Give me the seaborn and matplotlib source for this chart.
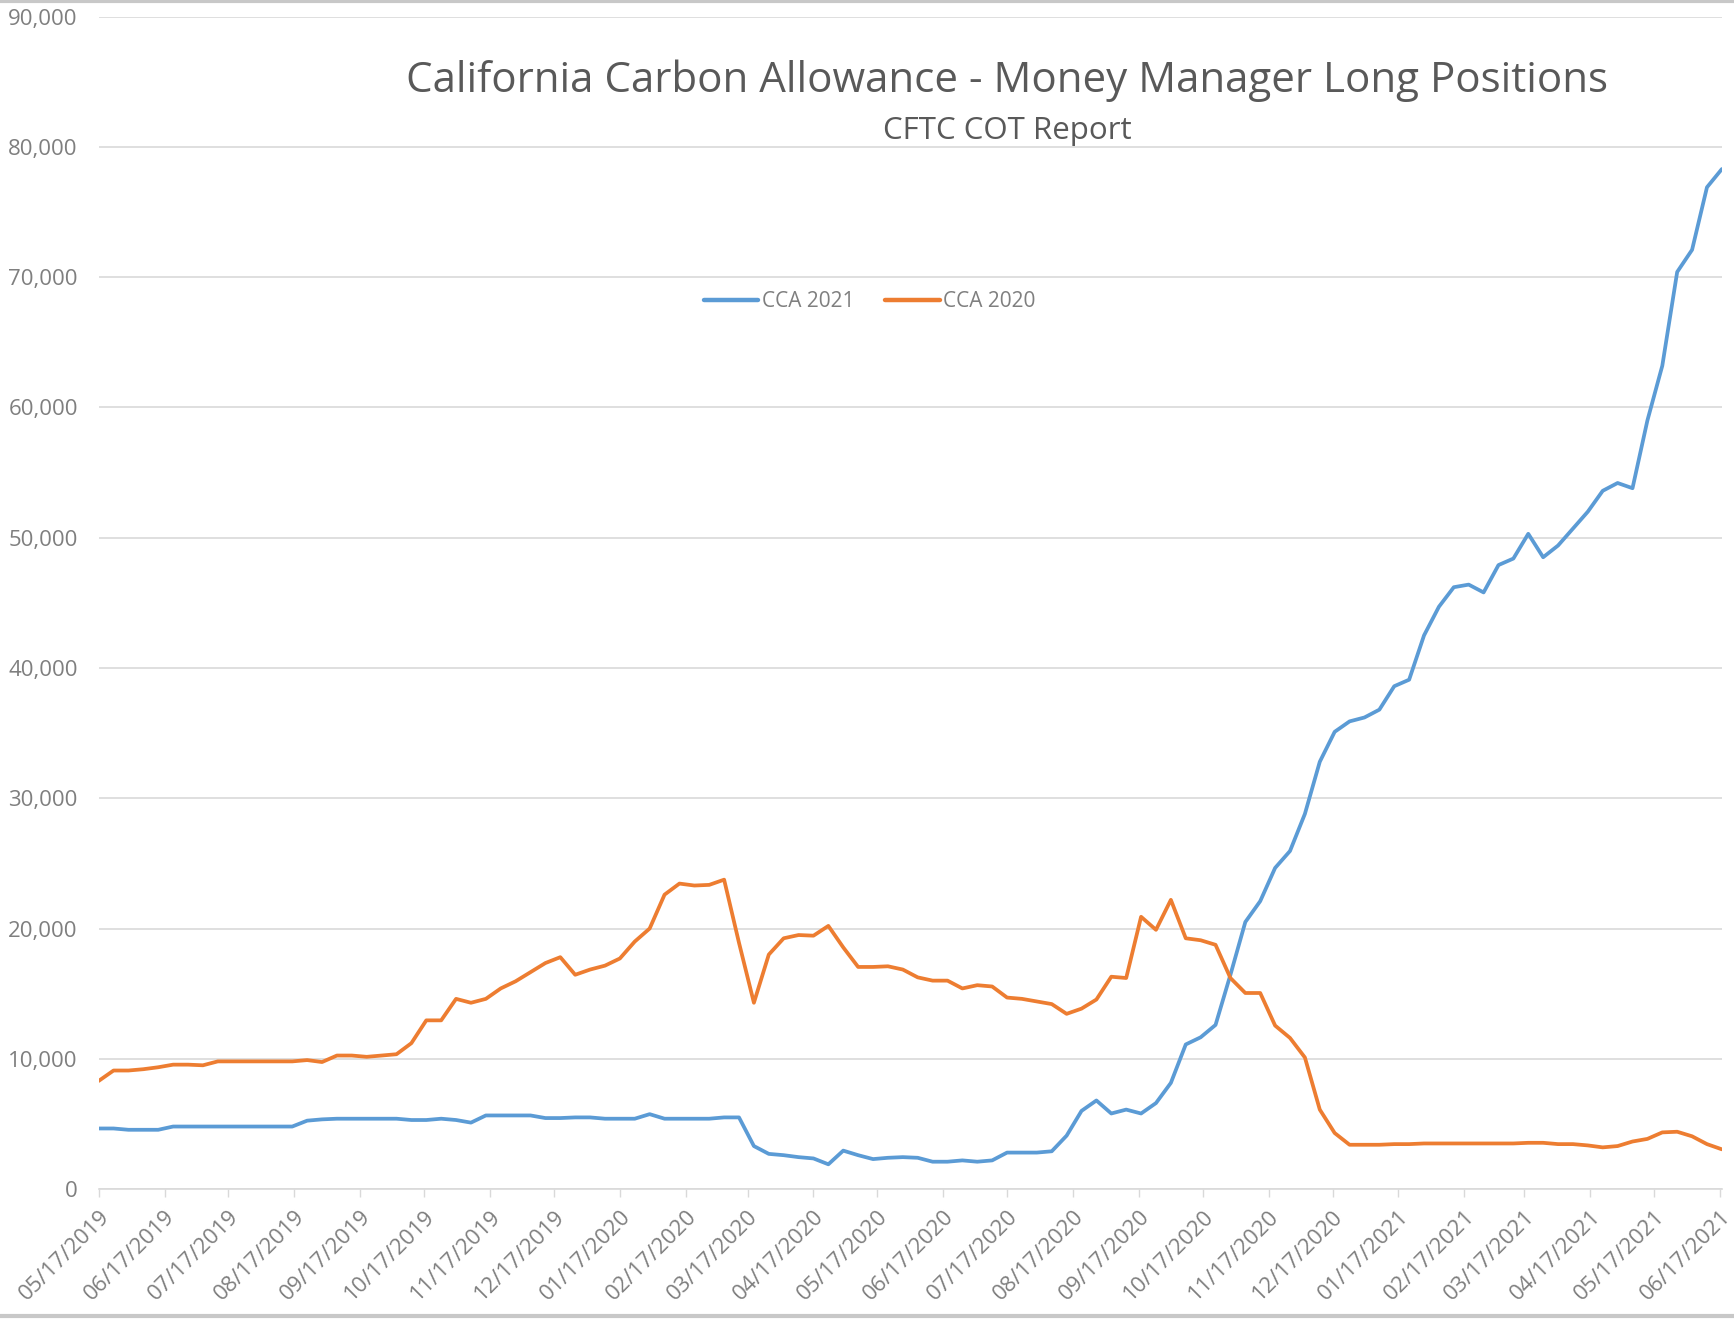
"""California Carbon Allowance money manager long positions (CFTC COT)."""

import matplotlib

matplotlib.use("Agg")
import matplotlib.dates as mdates
import matplotlib.pyplot as plt
import matplotlib.ticker as mticker
import numpy as np
import pandas as pd
import seaborn as sns
from matplotlib.lines import Line2D

# weekly report dates (Fridays)
report_dates = pd.date_range("2019-05-17", periods=110, freq="7D")

cca_2021 = [
    4650, 4650, 4550, 4550, 4550, 4800, 4800, 4800, 4800, 4800,
    4800, 4800, 4800, 4800, 5250, 5350, 5400, 5400, 5400, 5400,
    5400, 5300, 5300, 5400, 5300, 5100, 5650, 5650, 5650, 5650,
    5450, 5450, 5500, 5500, 5400, 5400, 5400, 5750, 5400, 5400,
    5400, 5400, 5500, 5500, 3300, 2700, 2600, 2450, 2350, 1900,
    2950, 2600, 2300, 2400, 2450, 2400, 2100, 2100, 2200, 2100,
    2200, 2800, 2800, 2800, 2900, 4100, 6000, 6800, 5800, 6100,
    5800, 6600, 8150, 11100, 11650, 12600, 16450, 20500, 22100, 24650,
    25950, 28800, 32800, 35100, 35900, 36200, 36800, 38600, 39100, 42500,
    44700, 46200, 46400, 45800, 47900, 48400, 50300, 48500, 49400, 50700,
    52000, 53600, 54200, 53800, 59000, 63200, 70400, 72100, 76900, 78300,
]

cca_2020 = [
    8300, 9100, 9100, 9200, 9350, 9550, 9550, 9500, 9800, 9800,
    9800, 9800, 9800, 9800, 9900, 9750, 10250, 10250, 10150, 10250,
    10350, 11200, 12950, 12950, 14600, 14300, 14600, 15400, 15950, 16650,
    17350, 17800, 16450, 16850, 17150, 17700, 19000, 20000, 22600, 23450,
    23300, 23350, 23750, 18900, 14300, 18000, 19250, 19500, 19450, 20200,
    18550, 17050, 17050, 17100, 16850, 16250, 16000, 16000, 15400, 15650,
    15550, 14700, 14600, 14400, 14200, 13450, 13850, 14550, 16300, 16200,
    20900, 19900, 22200, 19250, 19100, 18750, 16200, 15050, 15050, 12550,
    11600, 10100, 6100, 4300, 3400, 3400, 3400, 3450, 3450, 3500,
    3500, 3500, 3500, 3500, 3500, 3500, 3550, 3550, 3450, 3450,
    3350, 3200, 3300, 3650, 3850, 4350, 4400, 4050, 3450, 3050,
]

series_names = ["CCA 2021", "CCA 2020"]
series_colors = ["#5B9BD5", "#ED7D31"]

df = pd.DataFrame({
    "date": np.concatenate([report_dates, report_dates]),
    "positions": cca_2021 + cca_2020,
    "series": [series_names[0]] * len(cca_2021) + [series_names[1]] * len(cca_2020),
})

sns.set_theme(style="white")
plt.rcParams["font.family"] = ["Open Sans", "DejaVu Sans"]

fig = plt.figure(figsize=(17.34, 13.2), dpi=100)
ax = fig.add_axes([0.0569, 0.0992, 0.9361, 0.8882])

sns.lineplot(
    data=df, x="date", y="positions", hue="series",
    palette=dict(zip(series_names, series_colors)),
    linewidth=2.7, ax=ax,
)

ax.set_ylim(0, 90000)
ax.set_xlim(report_dates[0], report_dates[-1])
ax.yaxis.set_major_locator(mticker.MultipleLocator(10000))
ax.yaxis.set_major_formatter(mticker.FuncFormatter(lambda v, _: f"{int(v):,}"))
ax.grid(axis="y", color="#D9D9D9", linewidth=1.2)
ax.set_axisbelow(True)

ax.xaxis.set_major_locator(mdates.MonthLocator(bymonthday=17))
ax.xaxis.set_major_formatter(mdates.DateFormatter("%m/%d/%Y"))
plt.setp(ax.get_xticklabels(), rotation=45, ha="right", rotation_mode="anchor")
ax.tick_params(axis="x", colors="#D9D9D9", labelsize=16, length=6, width=1.0,
               direction="out", bottom=True, pad=6, labelcolor="#7F7F7F")
ax.tick_params(axis="y", labelsize=16, labelcolor="#7F7F7F", length=0, pad=15)

for side in ["top", "right", "left"]:
    ax.spines[side].set_visible(False)
ax.spines["bottom"].set_color("#D9D9D9")
ax.spines["bottom"].set_linewidth(1.2)
ax.set_xlabel("")
ax.set_ylabel("")

leg = ax.legend(loc="center", bbox_to_anchor=(0.475, 0.757), ncol=2, frameon=False,
                fontsize=15, handlelength=2.6, handletextpad=0.15, columnspacing=1.5)
for text in leg.get_texts():
    text.set_color("#7F7F7F")
for line in leg.get_lines():
    line.set_linewidth(3.2)

fig.text(0.581, 0.939, "California Carbon Allowance - Money Manager Long Positions",
         ha="center", va="center", fontsize=30.3, color="#595959")
fig.text(0.581, 0.901, "CFTC COT Report", ha="center", va="center",
         fontsize=22.5, color="#595959")

# screenshot frame lines at top and bottom
for yy in (0.999, 0.003):
    fig.add_artist(Line2D([0, 1], [yy, yy], transform=fig.transFigure,
                          color="#C8C8C8", linewidth=3))

fig.savefig("out.png", dpi=100)
plt.close(fig)
